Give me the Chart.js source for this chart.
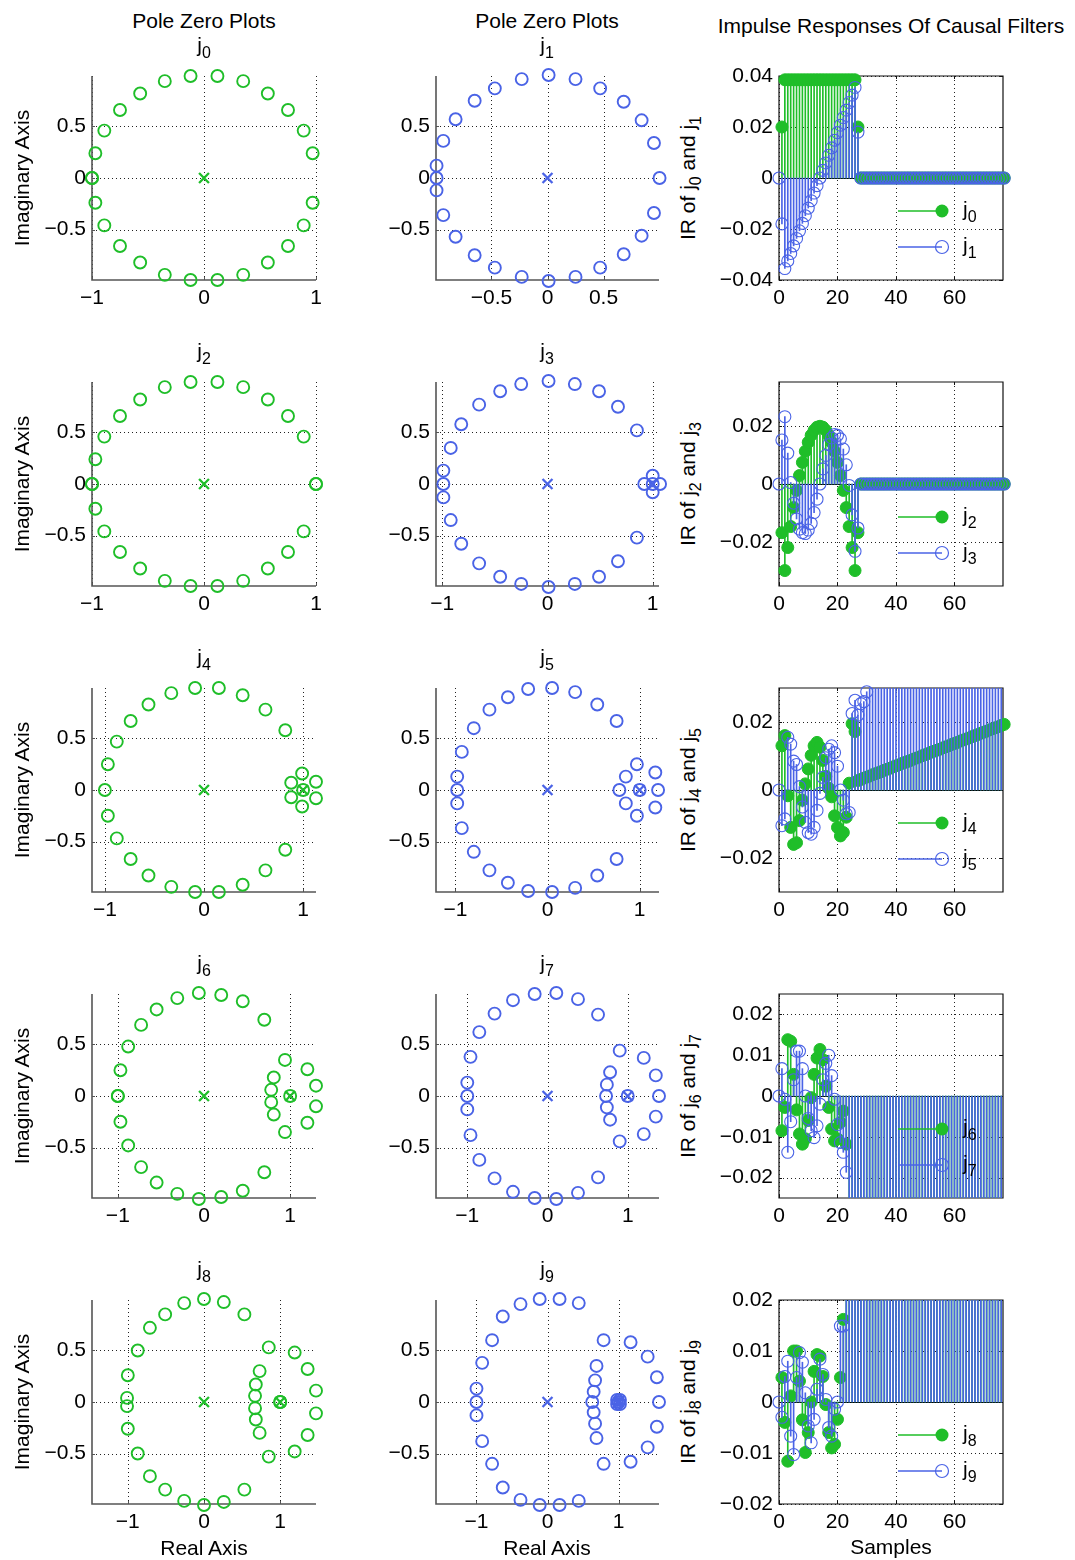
<!DOCTYPE html>
<html>
<head>
<meta charset="utf-8">
<script src="https://cdn.jsdelivr.net/npm/chart.js@4.4.0/dist/chart.umd.min.js"></script>
<style>
  body { margin: 0; background: #fff; width: 1075px; height: 1560px; position: relative; overflow: hidden;
         font-family: "Liberation Sans", Arial, Helvetica, sans-serif; }
  canvas { position: absolute; }
  .t { position: absolute; white-space: nowrap; font-size: 21px; line-height: 21px; color: #000; }
  .t sub { font-size: 16px; vertical-align: -6px; line-height: 0; }
</style>
</head>
<body>
<script>
// ---------- pole / zero locations (re, im) ----------
const zerosJ0 = [
  [0.97, 0.24], [0.89, 0.46], [0.75, 0.66], [0.57, 0.82], [0.35, 0.94], [0.12, 0.99],
  [-0.12, 0.99], [-0.35, 0.94], [-0.57, 0.82], [-0.75, 0.66], [-0.89, 0.46], [-0.97, 0.24],
  [-1.0, 0.0], [-1.0, 0.0],
  [-0.97, -0.24], [-0.89, -0.46], [-0.75, -0.66], [-0.57, -0.82], [-0.35, -0.94], [-0.12, -0.99],
  [0.12, -0.99], [0.35, -0.94], [0.57, -0.82], [0.75, -0.66], [0.89, -0.46], [0.97, -0.24]
];
const polesJ0 = [[0, 0]];

const zerosJ1 = [
  [1.0, 0.0], [0.95, 0.34], [0.84, 0.56], [0.68, 0.74], [0.47, 0.87], [0.25, 0.96], [0.01, 1.0],
  [-0.23, 0.96], [-0.47, 0.87], [-0.65, 0.75], [-0.82, 0.57], [-0.93, 0.36], [-0.99, 0.12],
  [-0.99, 0.0],
  [-0.99, -0.12], [-0.93, -0.36], [-0.82, -0.57], [-0.65, -0.75], [-0.47, -0.87], [-0.23, -0.96],
  [0.01, -1.0], [0.25, -0.96], [0.47, -0.87], [0.68, -0.74], [0.84, -0.56], [0.95, -0.34]
];
const polesJ1 = [[0, 0]];

const zerosJ2 = [
  [0.89, 0.46], [0.75, 0.66], [0.57, 0.82], [0.35, 0.94], [0.12, 0.99],
  [-0.12, 0.99], [-0.35, 0.94], [-0.57, 0.82], [-0.75, 0.66], [-0.89, 0.46], [-0.97, 0.24],
  [-1.0, 0.0], [-1.0, 0.0],
  [-0.97, -0.24], [-0.89, -0.46], [-0.75, -0.66], [-0.57, -0.82], [-0.35, -0.94], [-0.12, -0.99],
  [0.12, -0.99], [0.35, -0.94], [0.57, -0.82], [0.75, -0.66], [0.89, -0.46],
  [1.0, 0.0], [1.0, 0.0]
];
const polesJ2 = [[0, 0]];

const zerosJ3 = [
  [0.85, 0.52], [0.67, 0.75], [0.49, 0.9], [0.26, 0.97], [0.01, 1.0],
  [-0.25, 0.97], [-0.45, 0.9], [-0.65, 0.77], [-0.82, 0.58], [-0.92, 0.35], [-0.99, 0.13],
  [-0.99, 0.0],
  [-0.99, -0.13], [-0.92, -0.35], [-0.82, -0.58], [-0.65, -0.77], [-0.45, -0.9], [-0.25, -0.97],
  [0.01, -1.0], [0.26, -0.97], [0.49, -0.9], [0.67, -0.75], [0.85, -0.52],
  [0.92, 0.0], [1.0, 0.08], [1.0, -0.08], [1.07, 0.0], [1.0, 0.0]
];
const polesJ3 = [[0, 0], [1, 0]];

const zerosJ4 = [
  [0.82, 0.58], [0.62, 0.78], [0.39, 0.92], [0.15, 0.99], [-0.09, 0.99], [-0.33, 0.94],
  [-0.56, 0.83], [-0.74, 0.67], [-0.88, 0.47], [-0.97, 0.25],
  [-1.0, 0.0],
  [-0.97, -0.25], [-0.88, -0.47], [-0.74, -0.67], [-0.56, -0.83], [-0.33, -0.94], [-0.09, -0.99],
  [0.15, -0.99], [0.39, -0.92], [0.62, -0.78], [0.82, -0.58],
  [1.0, 0.0], [0.99, 0.16], [0.99, -0.16], [0.88, 0.07], [0.88, -0.07], [1.13, 0.08], [1.13, -0.08]
];
const polesJ4 = [[0, 0], [1, 0]];

const zerosJ5 = [
  [0.75, 0.67], [0.54, 0.83], [0.3, 0.95], [0.05, 0.99], [-0.21, 0.98], [-0.43, 0.9],
  [-0.63, 0.78], [-0.8, 0.6], [-0.93, 0.37], [-0.98, 0.13],
  [-0.98, 0.0],
  [-0.98, -0.13], [-0.93, -0.37], [-0.8, -0.6], [-0.63, -0.78], [-0.43, -0.9], [-0.21, -0.98],
  [0.05, -0.99], [0.3, -0.95], [0.54, -0.83], [0.75, -0.67],
  [1.0, 0.0], [0.97, 0.25], [0.97, -0.25], [0.85, 0.13], [0.85, -0.13], [0.78, 0.0],
  [1.17, 0.17], [1.17, -0.17], [1.2, 0.0]
];
const polesJ5 = [[0, 0], [1, 0]];

const zerosJ6 = [
  [0.7, 0.74], [0.45, 0.92], [0.2, 0.98], [-0.06, 1.0], [-0.31, 0.95], [-0.55, 0.84],
  [-0.73, 0.69], [-0.88, 0.48], [-0.97, 0.25],
  [-1.0, 0.0], [-1.0, 0.0],
  [-0.97, -0.25], [-0.88, -0.48], [-0.73, -0.69], [-0.55, -0.84], [-0.31, -0.95], [-0.06, -1.0],
  [0.2, -0.98], [0.45, -0.92], [0.7, -0.74],
  [0.94, 0.35], [1.2, 0.26], [0.81, 0.18], [0.78, 0.06], [1.3, 0.1],
  [0.78, -0.06], [1.3, -0.1], [0.81, -0.18], [1.2, -0.26], [0.94, -0.35], [1.0, 0.0]
];
const polesJ6 = [[0, 0], [1, 0]];

const zerosJ7 = [
  [0.63, 0.79], [0.38, 0.94], [0.11, 1.0], [-0.16, 0.99], [-0.43, 0.93], [-0.66, 0.8],
  [-0.85, 0.62], [-0.96, 0.38], [-1.0, 0.13],
  [-1.0, 0.0],
  [-1.0, -0.13], [-0.96, -0.38], [-0.85, -0.62], [-0.66, -0.8], [-0.43, -0.93], [-0.16, -0.99],
  [0.11, -1.0], [0.38, -0.94], [0.63, -0.79],
  [0.9, 0.44], [1.2, 0.37], [0.78, 0.23], [1.35, 0.2], [0.74, 0.11], [0.73, 0.0],
  [0.74, -0.11], [0.78, -0.23], [1.35, -0.2], [1.39, 0.0], [1.2, -0.37], [0.9, -0.44], [1.0, 0.0]
];
const polesJ7 = [[0, 0], [1, 0]];

const zerosJ8 = [
  [0.53, 0.85], [0.26, 0.97], [0.0, 1.0], [-0.26, 0.96], [-0.51, 0.85], [-0.71, 0.72],
  [-0.87, 0.5], [-1.0, 0.26],
  [-1.01, 0.04], [-1.01, -0.04],
  [-1.0, -0.26], [-0.87, -0.5], [-0.71, -0.72], [-0.51, -0.85], [-0.26, -0.96], [0.0, -1.0],
  [0.26, -0.97], [0.53, -0.85],
  [0.85, 0.53], [1.19, 0.48], [0.73, 0.3], [1.36, 0.32], [0.68, 0.17], [1.47, 0.11],
  [0.67, 0.06], [0.67, -0.06], [0.68, -0.17], [1.47, -0.11], [0.73, -0.3], [1.36, -0.32],
  [1.19, -0.48], [0.85, -0.53], [1.0, 0.0], [1.0, 0.0]
];
const polesJ8 = [[0, 0], [1, 0]];

const zerosJ9 = [
  [0.44, 0.96], [0.17, 1.0], [-0.11, 1.0], [-0.38, 0.95], [-0.63, 0.83], [-0.78, 0.6],
  [-0.92, 0.38], [-1.0, 0.13],
  [-1.0, 0.0],
  [-1.0, -0.13], [-0.92, -0.38], [-0.78, -0.6], [-0.63, -0.83], [-0.38, -0.95], [-0.11, -1.0],
  [0.17, -1.0], [0.44, -0.96],
  [0.79, 0.6], [1.17, 0.58], [0.69, 0.35], [1.41, 0.44], [0.67, 0.21], [1.54, 0.24],
  [0.65, 0.1], [0.63, 0.0], [0.65, -0.1], [0.67, -0.21], [1.54, -0.24], [0.69, -0.35],
  [1.41, -0.44], [1.17, -0.58], [0.79, -0.6], [1.57, 0.0],
  [1.0, 0.0], [1.02, 0.02], [0.98, 0.02], [1.02, -0.02], [0.98, -0.02]
];
const polesJ9 = [[0, 0], [1, 0], [1.01, 0.01], [0.99, -0.01]];

// ---------- impulse responses, samples n = 0..77 ----------
const irJ0 = [null, 0.02,
  0.0385, 0.0385, 0.0385, 0.0385, 0.0385, 0.0385, 0.0385, 0.0385, 0.0385, 0.0385, 0.0385, 0.0385, 0.0385,
  0.0385, 0.0385, 0.0385, 0.0385, 0.0385, 0.0385, 0.0385, 0.0385, 0.0385, 0.0385, 0.0385, 0.0385,
  0.02,
  0, 0, 0, 0, 0, 0, 0, 0, 0, 0, 0, 0, 0, 0, 0, 0, 0, 0, 0, 0, 0, 0, 0, 0, 0,
  0, 0, 0, 0, 0, 0, 0, 0, 0, 0, 0, 0, 0, 0, 0, 0, 0, 0, 0, 0, 0, 0, 0, 0, 0];
const irJ1 = [0, -0.018,
  -0.0355, -0.0325, -0.0296, -0.0266, -0.0237, -0.0207, -0.0178, -0.0148, -0.0118, -0.0089, -0.0059, -0.003, 0,
  0.003, 0.0059, 0.0089, 0.0118, 0.0148, 0.0178, 0.0207, 0.0237, 0.0266, 0.0296, 0.0325, 0.0355,
  0.018,
  0, 0, 0, 0, 0, 0, 0, 0, 0, 0, 0, 0, 0, 0, 0, 0, 0, 0, 0, 0, 0, 0, 0, 0, 0,
  0, 0, 0, 0, 0, 0, 0, 0, 0, 0, 0, 0, 0, 0, 0, 0, 0, 0, 0, 0, 0, 0, 0, 0, 0];
const irJ2 = [null, -0.0167,
  -0.0297, -0.0218, -0.0146, -0.0081, -0.0022, 0.0029, 0.0074, 0.0112, 0.0143, 0.0167, 0.0184, 0.0195, 0.0198,
  0.0195, 0.0184, 0.0167, 0.0143, 0.0112, 0.0074, 0.0029, -0.0022, -0.0081, -0.0146, -0.0218, -0.0297,
  -0.0167,
  0, 0, 0, 0, 0, 0, 0, 0, 0, 0, 0, 0, 0, 0, 0, 0, 0, 0, 0, 0, 0, 0, 0, 0, 0,
  0, 0, 0, 0, 0, 0, 0, 0, 0, 0, 0, 0, 0, 0, 0, 0, 0, 0, 0, 0, 0, 0, 0, 0, 0];
const irJ3 = [0, 0.0151,
  0.0231, 0.0106, 0.0005, -0.0066, -0.012, -0.0155, -0.0167, -0.017, -0.0158, -0.0135, -0.0098, -0.0052, 0,
  0.0052, 0.0098, 0.0135, 0.0158, 0.017, 0.0167, 0.0155, 0.012, 0.0066, -0.0005, -0.0106, -0.0231,
  -0.0151,
  0, 0, 0, 0, 0, 0, 0, 0, 0, 0, 0, 0, 0, 0, 0, 0, 0, 0, 0, 0, 0, 0, 0, 0, 0,
  0, 0, 0, 0, 0, 0, 0, 0, 0, 0, 0, 0, 0, 0, 0, 0, 0, 0, 0, 0, 0, 0, 0, 0, 0];
const irJ4 = [null, 0.013, 0.016, -0.0017, -0.011, -0.016, -0.0155, -0.009, -0.003, 0.0018,
  0.0062, 0.0102, 0.013, 0.014, 0.0126, 0.0087, 0.004, 0.0005, -0.002, -0.0076,
  -0.011, -0.0135, -0.0125, -0.008, 0.002, 0.0195, 0.0172,
  0.0028, 0.0031, 0.0035, 0.0038, 0.0041, 0.0045, 0.0048, 0.0051, 0.0054, 0.0058, 0.0061,
  0.0064, 0.0068, 0.0071, 0.0074, 0.0078, 0.0081, 0.0084, 0.0087, 0.0091, 0.0094,
  0.0097, 0.0101, 0.0104, 0.0107, 0.0111, 0.0114, 0.0117, 0.012, 0.0124, 0.0127,
  0.013, 0.0134, 0.0137, 0.014, 0.0144, 0.0147, 0.015, 0.0153, 0.0157, 0.016,
  0.0163, 0.0167, 0.017, 0.0173, 0.0177, 0.018, 0.0183, 0.0186, 0.019, 0.0193];
const irJ5 = [0, -0.0105, -0.0085, 0.0155, 0.0135, 0.0085, 0.0075, 0.001, -0.005, -0.0095,
  -0.0125, -0.013, -0.011, -0.006, -0.001, 0.0037, 0.0095, 0.012, 0.013, 0.011,
  0.007, 0.0, -0.003, -0.007, -0.0066, 0.0225, 0.0264, 0.022, 0.0254, 0.026, 0.0289,
  0.031, 0.031, 0.031, 0.031, 0.031, 0.031, 0.031, 0.031, 0.031, 0.031, 0.031, 0.031,
  0.031, 0.031, 0.031, 0.031, 0.031, 0.031, 0.031, 0.031, 0.031, 0.031, 0.031, 0.031,
  0.031, 0.031, 0.031, 0.031, 0.031, 0.031, 0.031, 0.031, 0.031, 0.031, 0.031, 0.031,
  0.031, 0.031, 0.031, 0.031, 0.031, 0.031, 0.031, 0.031, 0.031, 0.031, 0.031];
const irJ6 = [null, -0.0085, -0.0028, 0.0138, 0.0134, 0.0053, -0.0034, -0.0093, -0.0118, -0.0105,
  -0.006, -0.0004, 0.0053, 0.0093, 0.0114, 0.0089, 0.0024, -0.0028, -0.0081, -0.011,
  -0.0105, -0.0065, -0.0037, -0.0118,
  -0.027, -0.027, -0.027, -0.027, -0.027, -0.027, -0.027, -0.027, -0.027, -0.027, -0.027,
  -0.027, -0.027, -0.027, -0.027, -0.027, -0.027, -0.027, -0.027, -0.027, -0.027, -0.027,
  -0.027, -0.027, -0.027, -0.027, -0.027, -0.027, -0.027, -0.027, -0.027, -0.027, -0.027,
  -0.027, -0.027, -0.027, -0.027, -0.027, -0.027, -0.027, -0.027, -0.027, -0.027, -0.027,
  -0.027, -0.027, -0.027, -0.027, -0.027, -0.027, -0.027, -0.027, -0.027, -0.027, -0.027, -0.027];
const irJ7 = [0, 0.0067, -0.0008, -0.0138, -0.0063, 0.004, 0.011, 0.011, 0.0067, 0.0,
  -0.0055, -0.0085, -0.0102, -0.0073, -0.002, 0.004, 0.008, 0.01, 0.005, -0.0008,
  -0.007, -0.0114, -0.0138, -0.0187,
  -0.027, -0.027, -0.027, -0.027, -0.027, -0.027, -0.027, -0.027, -0.027, -0.027, -0.027,
  -0.027, -0.027, -0.027, -0.027, -0.027, -0.027, -0.027, -0.027, -0.027, -0.027, -0.027,
  -0.027, -0.027, -0.027, -0.027, -0.027, -0.027, -0.027, -0.027, -0.027, -0.027, -0.027,
  -0.027, -0.027, -0.027, -0.027, -0.027, -0.027, -0.027, -0.027, -0.027, -0.027, -0.027,
  -0.027, -0.027, -0.027, -0.027, -0.027, -0.027, -0.027, -0.027, -0.027, -0.027, -0.027, -0.027];
const irJ8 = [null, 0.0048, -0.004, -0.0116, 0.0012, 0.01, 0.01, 0.0041, -0.0035, -0.0099,
  -0.006, 0.0, 0.006, 0.0093, 0.009, 0.005, -0.0005, -0.006, -0.009, -0.0083,
  -0.0034, 0.0048, 0.0162,
  0.022, 0.022, 0.022, 0.022, 0.022, 0.022, 0.022, 0.022, 0.022, 0.022, 0.022,
  0.022, 0.022, 0.022, 0.022, 0.022, 0.022, 0.022, 0.022, 0.022, 0.022, 0.022,
  0.022, 0.022, 0.022, 0.022, 0.022, 0.022, 0.022, 0.022, 0.022, 0.022, 0.022,
  0.022, 0.022, 0.022, 0.022, 0.022, 0.022, 0.022, 0.022, 0.022, 0.022, 0.022,
  0.022, 0.022, 0.022, 0.022, 0.022, 0.022, 0.022, 0.022, 0.022, 0.022, 0.022];
const irJ9 = [0, -0.003, 0.005, 0.008, -0.0067, -0.0103, 0.0048, 0.0097, 0.0078, 0.0018,
  -0.0047, -0.008, -0.0034, 0.0025, 0.0084, 0.0054, 0.0005, -0.005, -0.0067, -0.0014,
  0.0, 0.0149, 0.0149,
  0.022, 0.022, 0.022, 0.022, 0.022, 0.022, 0.022, 0.022, 0.022, 0.022, 0.022,
  0.022, 0.022, 0.022, 0.022, 0.022, 0.022, 0.022, 0.022, 0.022, 0.022, 0.022,
  0.022, 0.022, 0.022, 0.022, 0.022, 0.022, 0.022, 0.022, 0.022, 0.022, 0.022,
  0.022, 0.022, 0.022, 0.022, 0.022, 0.022, 0.022, 0.022, 0.022, 0.022, 0.022,
  0.022, 0.022, 0.022, 0.022, 0.022, 0.022, 0.022, 0.022, 0.022, 0.022, 0.022];

// ---------- tick labels ----------
const ticksUnit = [-1, 0, 1];
const ticksHalf = [-0.5, 0, 0.5];
const ticksSamples = [0, 20, 40, 60];
const ticksIR4 = [-0.04, -0.02, 0, 0.02, 0.04];
const ticksIR2 = [-0.02, 0, 0.02];
const ticksIR1 = [-0.02, -0.01, 0, 0.01, 0.02];

// ---------- layout ----------
const GREEN = '#1fbe29';
const BLUE = '#4a63e6';
const FONT = '"Liberation Sans", Arial, Helvetica, sans-serif';
const BOX_LEFT = [92, 436, 779];
const BOX_W = [224, 223, 224];
const BOX_TOP = [76, 382, 688, 994, 1300];
const BOX_H = 204;
const ML = 72, MT = 24, MR = 14, MB = 36;

const fmt = v => (v < 0 ? '\u2212' : '') + String(Math.abs(v));

const framePlugin = {
  id: 'frame',
  beforeDatasetsDraw(chart, args, o) {
    const { ctx, chartArea: a, scales: { x, y } } = chart;
    ctx.save();
    ctx.lineWidth = 1;
    ctx.strokeStyle = '#222';
    ctx.setLineDash([1, 3]);
    ctx.beginPath();
    x.ticks.forEach(t => {
      const p = Math.round(x.getPixelForValue(t.value)) + 0.5;
      ctx.moveTo(p, a.top); ctx.lineTo(p, a.bottom);
    });
    y.ticks.forEach(t => {
      const p = Math.round(y.getPixelForValue(t.value)) + 0.5;
      ctx.moveTo(a.left, p); ctx.lineTo(a.right, p);
    });
    ctx.stroke();
    ctx.setLineDash([]);
    if (o.baseline) {
      const p = Math.round(y.getPixelForValue(0)) + 0.5;
      ctx.strokeStyle = '#000';
      ctx.beginPath(); ctx.moveTo(a.left, p); ctx.lineTo(a.right, p); ctx.stroke();
    }
    // axes and inward ticks
    ctx.strokeStyle = o.box ? '#111' : '#555';
    ctx.lineWidth = o.box ? 1.2 : 1.6;
    ctx.beginPath();
    ctx.moveTo(a.left, a.top); ctx.lineTo(a.left, a.bottom); ctx.lineTo(a.right, a.bottom);
    if (o.box) { ctx.lineTo(a.right, a.top); ctx.closePath(); }
    ctx.stroke();
    ctx.lineWidth = 1;
    ctx.beginPath();
    x.ticks.forEach(t => {
      const p = Math.round(x.getPixelForValue(t.value)) + 0.5;
      ctx.moveTo(p, a.bottom); ctx.lineTo(p, a.bottom - 3);
      if (o.box) { ctx.moveTo(p, a.top); ctx.lineTo(p, a.top + 3); }
    });
    y.ticks.forEach(t => {
      const p = Math.round(y.getPixelForValue(t.value)) + 0.5;
      ctx.moveTo(a.left, p); ctx.lineTo(a.left + 3, p);
      if (o.box) { ctx.moveTo(a.right, p); ctx.lineTo(a.right - 3, p); }
    });
    ctx.stroke();
    ctx.restore();
  },
  afterDatasetsDraw(chart, args, o) {
    if (!o.legend) return;
    const { ctx, chartArea: a } = chart;
    ctx.save();
    o.legend.forEach((e, i) => {
      const yy = a.top + [135, 171][i];
      ctx.strokeStyle = e.color; ctx.lineWidth = 1.3;
      ctx.beginPath(); ctx.moveTo(a.left + 119, yy); ctx.lineTo(a.left + 163, yy); ctx.stroke();
      ctx.beginPath(); ctx.arc(a.left + 163, yy, 6.5, 0, Math.PI * 2);
      if (e.filled) { ctx.fillStyle = e.color; ctx.fill(); } else { ctx.lineWidth = 1.2; ctx.stroke(); }
    });
    ctx.restore();
  }
};

function makeCanvas(col, row) {
  const c = document.createElement('canvas');
  const w = BOX_W[col] + ML + MR, h = BOX_H + MT + MB;
  c.width = w; c.height = h;
  c.style.left = (BOX_LEFT[col] - ML) + 'px';
  c.style.top = (BOX_TOP[row] - MT) + 'px';
  c.style.width = w + 'px'; c.style.height = h + 'px';
  document.body.appendChild(c);
  return c;
}

function axis(min, max, ticks, isX) {
  return {
    type: 'linear', min, max,
    grid: { display: false, drawTicks: false }, border: { display: false },
    afterFit: s => { if (isX) s.height = MB; else s.width = ML; },
    afterBuildTicks: s => { s.ticks = ticks.map(v => ({ value: v })); },
    ticks: { color: '#000', font: { family: FONT, size: 21 }, padding: 6,
             autoSkip: false, maxRotation: 0, callback: v => fmt(v) }
  };
}

function pzChart(col, row, zeros, poles, xr, xt, color) {
  new Chart(makeCanvas(col, row), {
    type: 'scatter',
    data: { datasets: [
      { data: poles.map(p => ({ x: p[0], y: p[1] })), pointStyle: 'crossRot', pointRadius: 7,
        borderColor: color, borderWidth: 2.3, backgroundColor: color, clip: false },
      { data: zeros.map(p => ({ x: p[0], y: p[1] })), pointStyle: 'circle', pointRadius: 6,
        borderColor: color, borderWidth: 1.9, backgroundColor: 'rgba(0,0,0,0)', clip: false }
    ] },
    options: {
      responsive: false, animation: false, devicePixelRatio: 1, events: [],
      layout: { padding: { left: 0, top: MT, right: MR, bottom: 0 } },
      plugins: { legend: { display: false }, tooltip: { enabled: false }, frame: { box: false } },
      scales: { x: axis(-xr, xr, xt, true), y: axis(-0.99, 0.99, ticksHalf, false) }
    },
    plugins: [framePlugin]
  });
}

function irChart(row, even, odd, yr, yt) {
  const pts = arr => arr.map((v, i) => ({ x: i, y: v })).filter(p => p.y !== null);
  const rad = r => ctx => (ctx.raw && Math.abs(ctx.raw.y) <= yr + 1e-9) ? r : 0;
  new Chart(makeCanvas(2, row), {
    type: 'bar',
    data: { datasets: [
      { type: 'scatter', data: pts(odd), pointRadius: rad(6), borderColor: BLUE, borderWidth: 1.1,
        backgroundColor: 'rgba(0,0,0,0)', clip: false, order: 1 },
      { type: 'bar', data: pts(odd), backgroundColor: BLUE, barThickness: 1, grouped: false, order: 2 },
      { type: 'scatter', data: pts(even), pointRadius: rad(6), borderColor: GREEN, borderWidth: 1,
        backgroundColor: GREEN, clip: false, order: 3 },
      { type: 'bar', data: pts(even), backgroundColor: GREEN, barThickness: 1, grouped: false, order: 4 }
    ] },
    options: {
      responsive: false, animation: false, devicePixelRatio: 1, events: [],
      layout: { padding: { left: 0, top: MT, right: MR, bottom: 0 } },
      plugins: { legend: { display: false }, tooltip: { enabled: false },
        frame: { box: true, baseline: true,
                 legend: [{ color: GREEN, filled: true }, { color: BLUE, filled: false }] } },
      scales: { x: Object.assign(axis(0, 76.6, ticksSamples, true), { offset: false }),
                y: axis(-yr, yr, yt, false) }
    },
    plugins: [framePlugin]
  });
}

// ---------- build ----------
const pzCol1 = [[zerosJ0, polesJ0, 1.0, ticksUnit], [zerosJ2, polesJ2, 1.0, ticksUnit],
                [zerosJ4, polesJ4, 1.13, ticksUnit], [zerosJ6, polesJ6, 1.3, ticksUnit],
                [zerosJ8, polesJ8, 1.47, ticksUnit]];
const pzCol2 = [[zerosJ1, polesJ1, 0.995, ticksHalf], [zerosJ3, polesJ3, 1.06, ticksUnit],
                [zerosJ5, polesJ5, 1.21, ticksUnit], [zerosJ7, polesJ7, 1.39, ticksUnit],
                [zerosJ9, polesJ9, 1.57, ticksUnit]];
const irRows = [[irJ0, irJ1, 0.04, ticksIR4], [irJ2, irJ3, 0.035, ticksIR2],
                [irJ4, irJ5, 0.03, ticksIR2], [irJ6, irJ7, 0.025, ticksIR1],
                [irJ8, irJ9, 0.02, ticksIR1]];

pzCol1.forEach((p, r) => pzChart(0, r, p[0], p[1], p[2], p[3], GREEN));
pzCol2.forEach((p, r) => pzChart(1, r, p[0], p[1], p[2], p[3], BLUE));
irRows.forEach((p, r) => irChart(r, p[0], p[1], p[2], p[3]));

// ---------- texts ----------
function text(html, x, baseline, align, rotate) {
  const d = document.createElement('div');
  d.className = 't';
  d.innerHTML = html;
  document.body.appendChild(d);
  if (rotate) {
    d.style.left = x + 'px'; d.style.top = baseline + 'px';
    d.style.transform = 'translate(-50%,-50%) rotate(-90deg)';
  } else {
    d.style.left = x + 'px'; d.style.top = (baseline - 18) + 'px';
    d.style.transform = align === 'left' ? 'none' : 'translateX(-50%)';
  }
}
text('Pole Zero Plots', 204, 28);
text('Pole Zero Plots', 547, 28);
text('Impulse Responses Of Causal Filters', 891, 33);
for (let r = 0; r < 5; r++) {
  const t = BOX_TOP[r];
  text('j<sub>' + (2 * r) + '</sub>', 204, t - 24);
  text('j<sub>' + (2 * r + 1) + '</sub>', 547, t - 24);
  text('Imaginary Axis', 21, t + BOX_H / 2, null, true);
  text('IR of j<sub>' + (2 * r) + '</sub> and j<sub>' + (2 * r + 1) + '</sub>', 687, t + BOX_H / 2, null, true);
  text('j<sub>' + (2 * r) + '</sub>', 963, t + 135 + 5, 'left');
  text('j<sub>' + (2 * r + 1) + '</sub>', 963, t + 171 + 5, 'left');
}
text('Real Axis', 204, 1555);
text('Real Axis', 547, 1555);
text('Samples', 891, 1554);
</script>
</body>
</html>
